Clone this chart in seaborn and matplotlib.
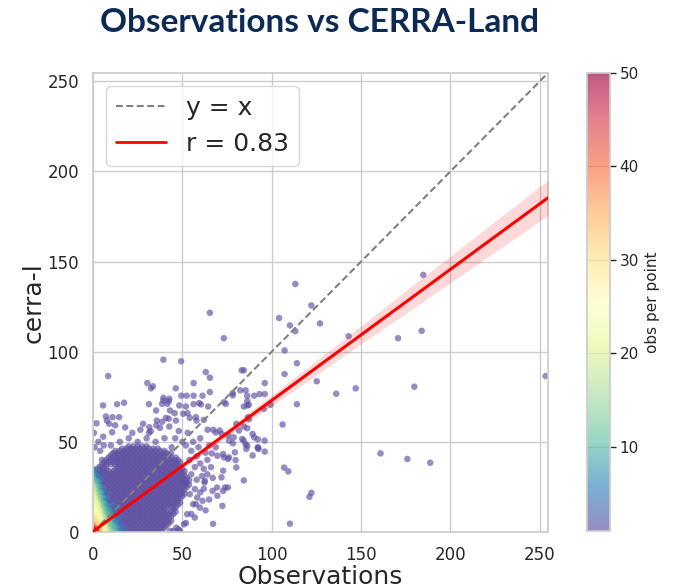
import numpy as np
import pandas as pd
import matplotlib
matplotlib.use("Agg")
import matplotlib.pyplot as plt
import seaborn as sns
from matplotlib.lines import Line2D

# ---------------- data ----------------
# isolated observations (obs, cerra-l), one observation each
sparse_x = [65.4, 73.2, 39.4, 49.3, 8.5, 63.1, 65.4, 83.2, 30.4, 33.5, 32.4, 46.3, 56.3, 65.4,
            49.4, 52.4, 56.3, 61.3, 39.4, 39.4, 42.4, 17.4, 13.5, 5.6, 31.3, 78.2, 78.2, 82.4,
            85.4, 86.3, 86.3, 59.4, 56.3, 48.3, 73.3, 74.3, 113.2, 122.2, 104.1, 110.2, 113.2,
            127.0, 143.0, 170.7, 107.2, 114.1, 107.2, 125.2, 147.0, 136.1, 96.1, 90.2, 93.2,
            96.1, 114.1, 84.4, 184.8, 183.9, 179.8, 253.3, 106.1, 160.9, 107.0, 109.3, 122.2,
            121.1, 110.2, 86.3, 87.2, 84.4, 84.4, 86.3, 89.3, 90.2, 92.2, 85.4, 92.2, 96.1,
            89.3, 84.4, 87.2, 95.6, 99.3, 175.9, 188.7, 67.2,
            38.7, 2.0, 7.2, 10.9, 14.6, 9.1, 12.4, 10.7, 5.7, 26.5, 31.3, 35.4, 38.7, 42.4,
            45.7, 52.9, 57.6, 60.4, 64.4, 68.7, 72.0, 75.6, 83.5, 78.3, 68.7, 66.5, 69.6, 73.3,
            76.1, 79.4, 79.8, 73.9, 66.9, 69.6, 62.4, 72.4, 57.6, 61.3, 47.9,
            42.7, 41.6, 35.3, 43.1, 7.8, 31.5, 35.7, 32.3, 37.5, 40.8, 46.4, 42.7, 50.5, 54.2,
            57.9, 62.0, 52.0, 64.1, 67.2, 70.9, 76.1, 78.7, 84.3, 86.3, 92.3, 96.0, 81.7, 80.2,
            86.7, 72.8, 75.5, 85.8, 92.6, 80.2, 72.8, 71.9, 69.4, 72.8, 75.5, 62.6, 51.4, 57.0,
            54.2, 58.3, 56.0, 52.7, 59.8, 50.9, 48.6, 43.1, 46.6,
            55.0, 58.0, 60.0, 57.0, 62.0, 54.0, 59.0, 63.0, 56.0, 52.0, 60.0, 64.0, 66.0, 61.0,
            64.0, 67.0, 55.0, 58.0, 50.0, 46.0, 40.0, 35.0, 30.0, 25.0, 20.0, 15.0, 10.0, 22.0,
            18.0, 28.0, 48.0, 53.0, 44.0, 65.0, 62.0, 65.0, 60.0, 55.0, 52.0, 57.0, 63.0, 45.0,
            1.0, 3.0, 0.5, 4.0, 6.0]
sparse_y = [121.6, 107.5, 95.6, 94.7, 86.5, 88.7, 85.6, 89.7, 82.6, 80.8, 79.7, 79.7, 82.6, 77.6,
            75.6, 75.6, 75.6, 75.6, 74.5, 72.9, 72.6, 71.7, 70.9, 70.2, 70.9, 75.8, 77.0, 78.6,
            78.6, 75.6, 72.6, 71.5, 70.9, 70.2, 72.0, 71.1, 137.6, 125.7, 118.7, 114.6, 111.4,
            115.7, 108.6, 107.5, 100.7, 93.6, 87.6, 83.6, 79.7, 76.7, 82.6, 75.6, 76.5,
            76.5, 70.9, 89.7, 142.6, 111.6, 80.6, 86.5, 59.6, 43.6, 35.7, 33.6, 21.7,
            19.5, 4.6, 70.2, 70.6, 69.6, 58.5, 57.6, 54.4, 52.5, 51.4, 48.6, 46.6, 44.6,
            42.5, 28.6, 62.6, 68.4, 70.6, 40.5, 38.4, 4.5,
            71.1, 60.3, 64.1, 63.7, 63.7, 60.0, 59.2, 55.3, 52.9, 56.7, 55.0, 59.1, 61.1, 62.8,
            65.9, 65.9, 63.7, 70.8, 69.6, 55.2, 54.4, 53.7, 51.6, 49.2, 47.0, 43.6, 42.3, 41.4,
            41.4, 44.2, 39.9, 24.7, 22.8, 20.1, 27.5, 14.5, 15.4, 17.3, 1.5,
            73.9, 71.1, 67.4, 67.4, 61.8, 58.1, 61.8, 55.9, 57.8, 63.3, 61.8, 58.5, 65.6, 63.3,
            61.8, 62.2, 69.6, 56.7, 56.7, 56.3, 50.7, 52.5, 50.7, 47.9, 47.0, 50.7, 56.3, 60.0,
            63.7, 43.3, 40.5, 46.1, 46.1, 35.8, 34.0, 30.3, 24.7, 22.8, 24.7, 28.4, 27.5, 23.8,
            21.0, 19.1, 15.4, 9.9, 13.5, 4.3, 0.6, 0.6, 2.4,
            45.0, 42.0, 38.0, 36.0, 35.0, 40.0, 47.0, 44.0, 50.0, 48.0, 52.0, 40.0, 36.0, 31.0,
            32.0, 30.0, 32.0, 29.0, 50.0, 52.0, 52.0, 50.0, 52.0, 50.0, 52.0, 50.0, 48.0, 55.0,
            58.0, 60.0, 56.0, 55.0, 47.0, 48.0, 24.0, 18.0, 22.0, 10.0, 5.0, 8.0, 12.0, 0.5,
            47.0, 50.0, 55.0, 45.0, 48.0]

# dense cloud near the origin: cerra-l value -> observed values in that row
dense_rows = {
    0.0:   "0 2.5 5 7.5 10 12.5 15 17.5 20 22.5 25 27.5 30 32.5 35 37.5",
    1.25:  "1.25 3.75 6.25 8.75 11.25 13.75 16.25 18.75 21.25 23.75 26.25 28.75 31.25 33.75 36.25 38.75",
    2.5:   "0 2.5 5 7.5 10 12.5 15 17.5 20 22.5 25 27.5 30 32.5 35 37.5 40",
    3.75:  "1.25 3.75 6.25 8.75 11.25 13.75 16.25 18.75 21.25 23.75 26.25 28.75 31.25 33.75 36.25 38.75 41.25",
    5.0:   "0 2.5 5 7.5 10 12.5 15 17.5 20 22.5 25 27.5 30 32.5 35 37.5 40 42.5",
    6.25:  "1.25 3.75 6.25 8.75 11.25 13.75 16.25 18.75 21.25 23.75 26.25 28.75 31.25 33.75 36.25 38.75 41.25 43.75",
    7.5:   "0 2.5 5 7.5 10 12.5 15 17.5 20 22.5 25 27.5 30 32.5 35 37.5 40 42.5",
    8.75:  "1.25 3.75 6.25 8.75 11.25 13.75 16.25 18.75 21.25 23.75 26.25 28.75 31.25 33.75 36.25 38.75 41.25 43.75",
    10.0:  "0 2.5 5 7.5 10 12.5 15 17.5 20 22.5 25 27.5 30 32.5 35 37.5 40 42.5 45",
    11.25: "1.25 3.75 6.25 8.75 11.25 13.75 16.25 18.75 21.25 23.75 26.25 28.75 31.25 33.75 36.25 38.75 41.25 43.75 46.25",
    12.5:  "0 2.5 5 7.5 10 12.5 15 17.5 20 22.5 25 27.5 30 32.5 35 37.5 40 45",
    13.75: "1.25 3.75 6.25 8.75 11.25 13.75 16.25 18.75 21.25 23.75 26.25 28.75 31.25 33.75 36.25 38.75 41.25 43.75 46.25",
    15.0:  "0 2.5 5 7.5 10 12.5 15 17.5 20 22.5 25 27.5 30 32.5 35 37.5 40 42.5 45 47.5",
    16.25: "1.25 3.75 6.25 8.75 11.25 13.75 16.25 18.75 21.25 23.75 26.25 28.75 31.25 33.75 36.25 38.75 41.25 43.75 46.25 48.75",
    17.5:  "0 2.5 5 7.5 10 12.5 15 17.5 20 22.5 25 27.5 30 32.5 35 37.5 40 42.5 45 47.5",
    18.75: "1.25 3.75 6.25 8.75 11.25 13.75 16.25 18.75 21.25 23.75 26.25 28.75 31.25 33.75 36.25 38.75 41.25 43.75 46.25 48.75",
    20.0:  "0 2.5 5 7.5 10 12.5 15 17.5 20 22.5 25 27.5 30 32.5 35 37.5 40 42.5 45 47.5 50",
    21.25: "1.25 3.75 6.25 8.75 11.25 13.75 16.25 18.75 21.25 23.75 26.25 28.75 31.25 33.75 36.25 38.75 41.25 43.75 46.25 48.75 51.25",
    22.5:  "0 2.5 5 7.5 10 12.5 15 17.5 20 22.5 25 27.5 30 32.5 35 37.5 40 42.5 45 47.5 50",
    23.75: "1.25 3.75 6.25 8.75 11.25 13.75 16.25 18.75 21.25 23.75 26.25 28.75 31.25 33.75 36.25 38.75 41.25 43.75 46.25 48.75 51.25",
    25.0:  "0 2.5 5 7.5 10 12.5 15 17.5 20 22.5 25 27.5 30 32.5 35 37.5 40 42.5 45 47.5 50 52.5",
    26.25: "1.25 3.75 6.25 8.75 11.25 13.75 16.25 18.75 21.25 23.75 26.25 28.75 31.25 33.75 36.25 38.75 41.25 43.75 46.25 48.75 51.25 53.75",
    27.5:  "0 2.5 5 7.5 10 12.5 15 17.5 20 22.5 25 27.5 30 32.5 35 37.5 40 42.5 45 47.5 50 52.5",
    28.75: "1.25 3.75 6.25 8.75 11.25 13.75 16.25 18.75 21.25 23.75 26.25 28.75 31.25 33.75 36.25 38.75 41.25 43.75 46.25 48.75 51.25 53.75",
    30.0:  "0 2.5 5 7.5 10 12.5 15 17.5 20 22.5 25 27.5 30 32.5 35 37.5 40 42.5 45 47.5 50 52.5",
    31.25: "1.25 3.75 6.25 8.75 11.25 13.75 16.25 18.75 21.25 23.75 26.25 28.75 31.25 33.75 36.25 38.75 41.25 43.75 46.25 48.75 51.25",
    32.5:  "0 2.5 5 7.5 10 12.5 15 17.5 20 22.5 25 27.5 30 32.5 35 37.5 40 42.5 45 47.5 50",
    33.75: "1.25 3.75 6.25 8.75 11.25 13.75 16.25 18.75 21.25 23.75 26.25 28.75 31.25 33.75 36.25 38.75 41.25 43.75 46.25 48.75 51.25",
    35.0:  "2.5 5 7.5 12.5 15 17.5 20 22.5 25 27.5 30 32.5 35 37.5 40 42.5 45 47.5 50",
    36.25: "3.75 6.25 13.75 16.25 18.75 21.25 23.75 26.25 28.75 31.25 33.75 36.25 38.75 41.25 43.75 46.25 48.75",
    37.5:  "5 7.5 10 12.5 15 17.5 20 22.5 25 27.5 30 32.5 35 37.5 40 42.5 45 47.5",
    38.75: "6.25 8.75 11.25 13.75 16.25 18.75 21.25 23.75 26.25 28.75 31.25 33.75 36.25 38.75 41.25 43.75 46.25 48.75",
    40.0:  "5 7.5 10 12.5 15 17.5 20 22.5 25 27.5 30 32.5 35 37.5 40 42.5 45 47.5",
    41.25: "8.75 11.25 13.75 16.25 18.75 21.25 23.75 26.25 28.75 31.25 33.75 36.25 38.75 41.25 43.75 46.25",
    42.5:  "10 12.5 15 17.5 20 22.5 25 27.5 30 32.5 35 37.5 40 42.5",
    43.75: "11.25 13.75 16.25 18.75 21.25 23.75 26.25 28.75 31.25 33.75 36.25 38.75 41.25 43.75",
    45.0:  "12.5 15 17.5 20 22.5 25 27.5 30 32.5 35 37.5 40",
    46.25: "16.25 18.75 21.25 23.75 26.25 28.75 31.25 33.75 36.25",
    47.5:  "20 22.5 25 27.5 30",
}

# most frequent values near the origin, (obs, cerra-l, number of observations),
# grouped by colour band
core_red = [(0, 0, 50), (1, 0, 49), (0, 1, 48), (1, 1, 47), (0, 2, 46), (2, 0, 45)]
core_orange = [(2, 1, 40), (1, 2, 40), (0, 3, 39), (0, 4, 37), (2, 2, 37), (3, 0, 36),
               (3, 1, 35), (1, 3, 35)]
core_yellow = [(0, 5, 32), (0, 6, 31), (0, 7, 30), (0, 8, 29), (0, 9, 28), (0, 10, 27),
               (0, 11, 26), (0, 12, 25), (1, 4, 32), (1, 5, 31), (1, 6, 30), (1, 7, 29),
               (1, 8, 28), (1, 9, 27), (1, 10, 26), (2, 3, 32), (2, 4, 31), (2, 5, 30),
               (2, 6, 29), (2, 7, 28), (2, 8, 26), (3, 2, 31), (3, 3, 30), (3, 4, 29),
               (3, 5, 28), (3, 6, 26), (4, 0, 30), (4, 1, 30), (4, 2, 29), (4, 3, 27),
               (5, 0, 28), (5, 1, 27), (4, 4, 26)]
core_green = [(0, 13, 24), (0, 14, 24), (0, 15, 23), (0, 16, 23), (0, 17, 22), (0, 18, 22),
              (0, 19, 21), (0, 20, 21), (0, 21, 20), (1, 11, 24), (1, 12, 24), (1, 13, 23),
              (1, 14, 23), (1, 15, 22), (1, 16, 22), (1, 17, 21), (1, 18, 20), (2, 9, 24),
              (2, 10, 23), (2, 11, 23), (2, 12, 22), (2, 13, 22), (2, 14, 21), (2, 15, 20),
              (3, 7, 24), (3, 8, 23), (3, 9, 23), (3, 10, 22), (3, 11, 21), (3, 12, 20),
              (4, 5, 24), (4, 6, 23), (4, 7, 22), (4, 8, 21), (4, 9, 20), (5, 2, 24),
              (5, 3, 23), (5, 4, 22), (5, 5, 21), (5, 6, 20), (6, 0, 24), (6, 1, 23),
              (6, 2, 22), (6, 3, 21), (7, 0, 21), (7, 1, 20)]
core_teal = [(0, 22, 19), (0, 23, 18), (0, 24, 17), (0, 25, 16), (0, 26, 15), (1, 19, 19),
             (1, 21, 17), (1, 23, 15), (2, 16, 19), (2, 18, 17), (2, 20, 15), (3, 13, 19),
             (3, 15, 17), (3, 17, 15), (4, 10, 19), (4, 12, 17), (4, 14, 15), (5, 7, 19),
             (5, 9, 17), (5, 11, 15), (6, 4, 19), (6, 6, 17), (6, 8, 15), (7, 2, 19),
             (7, 4, 17), (8, 0, 19), (8, 2, 16), (9, 0, 15), (9, 1, 14)]
core_blue = [(0, 27, 13), (0, 29, 11), (0, 31, 9), (1, 25, 13), (1, 27, 11), (1, 29, 9),
             (2, 22, 13), (2, 25, 11), (2, 28, 9), (3, 19, 13), (3, 22, 11), (3, 25, 9),
             (4, 16, 13), (4, 19, 11), (4, 22, 9), (5, 13, 13), (5, 16, 11), (5, 19, 9),
             (6, 10, 13), (6, 13, 11), (6, 16, 9), (7, 7, 13), (7, 10, 11), (7, 13, 9),
             (8, 5, 13), (8, 8, 11), (8, 11, 9), (9, 3, 13), (9, 6, 11), (9, 9, 9),
             (10, 1, 13), (10, 4, 11), (10, 7, 9), (11, 0, 12), (11, 3, 10), (12, 1, 10),
             (12, 4, 8), (13, 0, 9), (13, 2, 8)]
core_lilac = [(0, 33, 7), (1, 32, 6), (2, 31, 6), (3, 28, 7), (4, 25, 7), (5, 22, 7),
              (6, 19, 7), (7, 16, 7), (8, 14, 7), (9, 12, 7), (10, 10, 7), (11, 7, 7),
              (12, 6, 6), (13, 4, 6), (14, 2, 6), (15, 0, 6), (0, 35, 5), (2, 34, 4),
              (4, 29, 5), (6, 24, 5), (8, 19, 5), (10, 15, 5), (12, 11, 5), (14, 7, 5),
              (16, 3, 5), (17, 0, 4), (5, 31, 3), (9, 22, 3), (13, 14, 3), (16, 8, 3),
              (18, 2, 3)]

axis_max = 254.6
axis_ticks = [0, 50, 100, 150, 200, 250]
cbar_ticks = [10, 20, 30, 40, 50]
count_range = (1, 50)

# fitted regression and its confidence band half-width
reg_intercept = 0.3
reg_slope = 0.727
r_value = 0.83
ci_x = [0, 25, 50, 75, 100, 125, 150, 175, 200, 225, 254.6]
ci_half = [0.5, 0.7, 1.4, 2.2, 3.0, 4.0, 5.0, 6.3, 7.4, 8.5, 9.8]

# ---------------- assemble ----------------
xs, ys, ns = list(sparse_x), list(sparse_y), [1] * len(sparse_x)
for yv, row in dense_rows.items():
    for xv in row.split():
        xs.append(float(xv)); ys.append(yv); ns.append(1)
for band in (core_lilac, core_blue, core_teal, core_green, core_yellow, core_orange, core_red):
    for px_, py_, n_ in band:
        xs.append(px_); ys.append(py_); ns.append(n_)
df = pd.DataFrame({"obs": xs, "cerra": ys, "n": ns}).sort_values("n", kind="stable")

# ---------------- plot ----------------
sns.set_theme(style="whitegrid")
plt.rcParams["font.family"] = ["DejaVu Sans"]
W, H = 677, 588
fig = plt.figure(figsize=(W / 100, H / 100), dpi=100)
ax = fig.add_axes([93 / W, 1 - 532 / H, 455 / W, 459 / H])

sns.scatterplot(data=df, x="obs", y="cerra", c=df["n"].to_numpy(), cmap="Spectral_r",
                vmin=count_range[0], vmax=count_range[1], alpha=0.65, s=22,
                linewidth=0, ax=ax)
sc = ax.collections[-1]

ax.plot([0, axis_max], [0, axis_max], ls=(0, (3.3, 1.7)), color="gray", lw=1.5, zorder=3)
cx = np.array(ci_x)
fy = reg_intercept + reg_slope * cx
ax.fill_between(cx, fy - np.array(ci_half), fy + np.array(ci_half), color="red",
                alpha=0.15, lw=0, zorder=3)
sns.lineplot(x=cx, y=fy, color="red", lw=2.2, ax=ax, zorder=4)

ax.set_xlim(0, axis_max)
ax.set_ylim(0, axis_max)
ax.set_xticks(axis_ticks)
ax.set_yticks(axis_ticks)
ax.tick_params(labelsize=12, length=0, pad=10)
ax.set_xlabel("Observations", fontsize=18, labelpad=0.5)
ax.set_ylabel("cerra-l", fontsize=18, labelpad=1)

handles = [Line2D([], [], ls=(0, (3.3, 1.7)), color="gray", lw=1.5, label="y = x"),
           Line2D([], [], color="red", lw=2.0, label=f"r = {r_value:.2f}")]
ax.legend(handles=handles, loc="upper left", fontsize=18, frameon=True)

cax = fig.add_axes([587 / W, 1 - 531 / H, 23 / W, 458 / H])
cb = fig.colorbar(sc, cax=cax, ticks=cbar_ticks)
cb.set_label("obs per point", fontsize=11)
cb.outline.set_edgecolor("0.8")
cb.ax.tick_params(labelsize=11, length=4, width=1, color="0.15", pad=3)

fig.text(320 / W, 1 - 22 / H, "Observations vs CERRA-Land", ha="center", va="center",
         fontsize=24, fontweight="bold", color="#0c2a54", family="Lato")

fig.savefig("out.png", dpi=100)
